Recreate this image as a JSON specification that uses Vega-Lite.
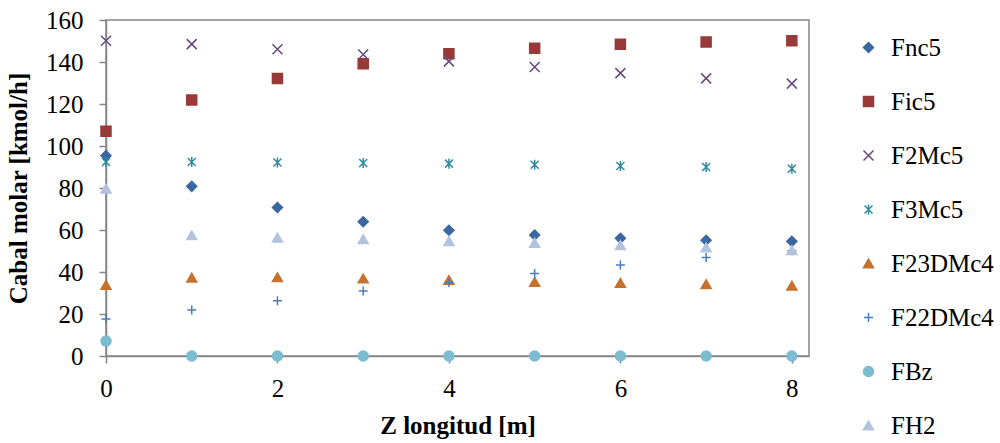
{
  "$schema": "https://vega.github.io/schema/vega-lite/v6.json",
  "padding": {"top": 8, "left": 6, "right": 5, "bottom": 5},
  "width": 703,
  "height": 336,
  "view": {"stroke": "#868686", "strokeWidth": 1.5},
  "data": {
    "values": [
      {"z": 0, "serie": "Fnc5", "F": 95.4}, {"z": 1, "serie": "Fnc5", "F": 80.8}, {"z": 2, "serie": "Fnc5", "F": 70.7}, {"z": 3, "serie": "Fnc5", "F": 63.9}, {"z": 4, "serie": "Fnc5", "F": 59.9}, {"z": 5, "serie": "Fnc5", "F": 57.6}, {"z": 6, "serie": "Fnc5", "F": 56.1}, {"z": 7, "serie": "Fnc5", "F": 55.1}, {"z": 8, "serie": "Fnc5", "F": 54.6},
      {"z": 0, "serie": "Fic5", "F": 107.0}, {"z": 1, "serie": "Fic5", "F": 121.9}, {"z": 2, "serie": "Fic5", "F": 132.2}, {"z": 3, "serie": "Fic5", "F": 139.2}, {"z": 4, "serie": "Fic5", "F": 143.9}, {"z": 5, "serie": "Fic5", "F": 146.6}, {"z": 6, "serie": "Fic5", "F": 148.5}, {"z": 7, "serie": "Fic5", "F": 149.5}, {"z": 8, "serie": "Fic5", "F": 150.1},
      {"z": 0, "serie": "F2Mc5", "F": 150.1}, {"z": 1, "serie": "F2Mc5", "F": 148.5}, {"z": 2, "serie": "F2Mc5", "F": 146.1}, {"z": 3, "serie": "F2Mc5", "F": 143.6}, {"z": 4, "serie": "F2Mc5", "F": 140.3}, {"z": 5, "serie": "F2Mc5", "F": 137.6}, {"z": 6, "serie": "F2Mc5", "F": 134.7}, {"z": 7, "serie": "F2Mc5", "F": 132.2}, {"z": 8, "serie": "F2Mc5", "F": 129.7},
      {"z": 0, "serie": "F3Mc5", "F": 92.4}, {"z": 1, "serie": "F3Mc5", "F": 92.4}, {"z": 2, "serie": "F3Mc5", "F": 92.1}, {"z": 3, "serie": "F3Mc5", "F": 91.9}, {"z": 4, "serie": "F3Mc5", "F": 91.6}, {"z": 5, "serie": "F3Mc5", "F": 91.1}, {"z": 6, "serie": "F3Mc5", "F": 90.5}, {"z": 7, "serie": "F3Mc5", "F": 90.0}, {"z": 8, "serie": "F3Mc5", "F": 89.2},
      {"z": 0, "serie": "F23DMc4", "F": 33.8}, {"z": 1, "serie": "F23DMc4", "F": 37.3}, {"z": 2, "serie": "F23DMc4", "F": 37.5}, {"z": 3, "serie": "F23DMc4", "F": 36.9}, {"z": 4, "serie": "F23DMc4", "F": 36.2}, {"z": 5, "serie": "F23DMc4", "F": 35.3}, {"z": 6, "serie": "F23DMc4", "F": 34.8}, {"z": 7, "serie": "F23DMc4", "F": 34.2}, {"z": 8, "serie": "F23DMc4", "F": 33.5},
      {"z": 0, "serie": "F22DMc4", "F": 17.6}, {"z": 1, "serie": "F22DMc4", "F": 21.9}, {"z": 2, "serie": "F22DMc4", "F": 26.3}, {"z": 3, "serie": "F22DMc4", "F": 30.9}, {"z": 4, "serie": "F22DMc4", "F": 35.0}, {"z": 5, "serie": "F22DMc4", "F": 39.3}, {"z": 6, "serie": "F22DMc4", "F": 43.3}, {"z": 7, "serie": "F22DMc4", "F": 46.9}, {"z": 8, "serie": "F22DMc4", "F": 50.1},
      {"z": 0, "serie": "FBz", "F": 7.1}, {"z": 1, "serie": "FBz", "F": 0}, {"z": 2, "serie": "FBz", "F": 0}, {"z": 3, "serie": "FBz", "F": 0}, {"z": 4, "serie": "FBz", "F": 0}, {"z": 5, "serie": "FBz", "F": 0}, {"z": 6, "serie": "FBz", "F": 0}, {"z": 7, "serie": "FBz", "F": 0}, {"z": 8, "serie": "FBz", "F": 0},
      {"z": 0, "serie": "FH2", "F": 79.7}, {"z": 1, "serie": "FH2", "F": 57.5}, {"z": 2, "serie": "FH2", "F": 56.4}, {"z": 3, "serie": "FH2", "F": 55.6}, {"z": 4, "serie": "FH2", "F": 54.7}, {"z": 5, "serie": "FH2", "F": 53.9}, {"z": 6, "serie": "FH2", "F": 52.8}, {"z": 7, "serie": "FH2", "F": 51.7}, {"z": 8, "serie": "FH2", "F": 50.4}
    ]
  },
  "mark": {"type": "point", "filled": true, "opacity": 1, "size": 100, "strokeWidth": 1.5},
  "encoding": {
    "x": {
      "field": "z", "type": "quantitative",
      "scale": {"domain": [0, 8.2], "nice": false, "zero": false},
      "axis": {
        "title": "Z longitud [m]", "values": [0, 2, 4, 6, 8], "grid": false,
        "domainColor": "#868686", "domainWidth": 1.5, "tickColor": "#868686", "tickWidth": 1.5, "tickSize": 7,
        "labelFont": "Liberation Serif", "labelFontSize": 25, "labelColor": "black", "labelPadding": 13, "labelFlush": false,
        "titleFont": "Liberation Serif", "titleFontSize": 25, "titleFontWeight": "bold", "titleColor": "black", "titlePadding": 12
      }
    },
    "y": {
      "field": "F", "type": "quantitative",
      "scale": {"domain": [0, 160], "nice": false},
      "axis": {
        "title": "Cabal molar [kmol/h]", "values": [0, 20, 40, 60, 80, 100, 120, 140, 160], "grid": false,
        "domainColor": "#868686", "domainWidth": 1.5, "tickColor": "#868686", "tickWidth": 1.5, "tickSize": 7,
        "labelFont": "Liberation Serif", "labelFontSize": 25, "labelColor": "black", "labelPadding": 16,
        "titleFont": "Liberation Serif", "titleFontSize": 25, "titleFontWeight": "bold", "titleColor": "black", "titlePadding": 14
      }
    },
    "color": {
      "field": "serie", "type": "nominal",
      "scale": {
        "domain": ["Fnc5", "Fic5", "F2Mc5", "F3Mc5", "F23DMc4", "F22DMc4", "FBz", "FH2"],
        "range": ["#3B67A0", "#973A38", "#66497E", "#2F8A9E", "#C5722F", "#4A7CBD", "#7BBCD0", "#B3C2DE"]
      },
      "legend": {
        "title": null, "orient": "none", "legendX": 750, "legendY": 15,
        "labelFont": "Liberation Serif", "labelFontSize": 25, "labelColor": "black", "labelOffset": 10,
        "rowPadding": 28, "symbolSize": 100, "symbolStrokeWidth": 1.5, "symbolOpacity": 1, "labelLimit": 200
      }
    },
    "stroke": {
      "field": "serie", "type": "nominal",
      "scale": {
        "domain": ["Fnc5", "Fic5", "F2Mc5", "F3Mc5", "F23DMc4", "F22DMc4", "FBz", "FH2"],
        "range": ["#3B67A0", "#973A38", "#66497E", "#2F8A9E", "#C5722F", "#4A7CBD", "#7BBCD0", "#B3C2DE"]
      }
    },
    "shape": {
      "field": "serie", "type": "nominal",
      "scale": {
        "domain": ["Fnc5", "Fic5", "F2Mc5", "F3Mc5", "F23DMc4", "F22DMc4", "FBz", "FH2"],
        "range": ["diamond", "square", "M-1,-1L1,1M-1,1L1,-1", "M-0.8,-0.8L0.8,0.8M-0.8,0.8L0.8,-0.8M0,-1L0,1", "triangle-up", "M-0.9,0L0.9,0M0,-0.9L0,0.9", "circle", "triangle-up"]
      }
    }
  }
}
